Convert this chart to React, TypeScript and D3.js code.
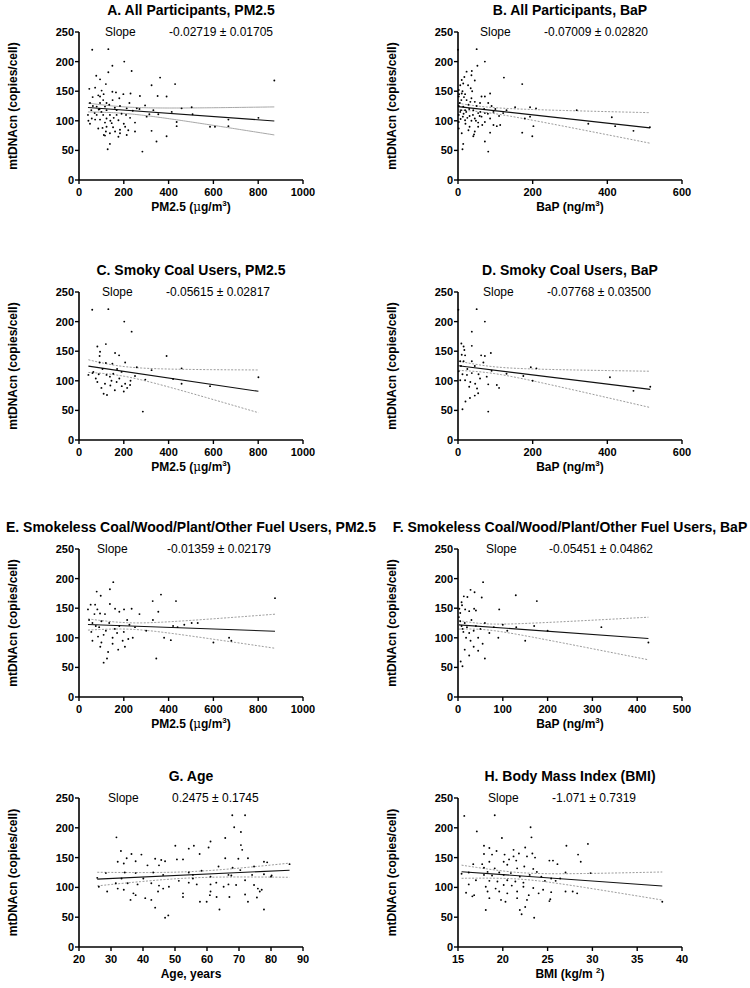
import React from 'react';
import * as d3 from 'd3';

type Pt = [number, number];

// ---------------- DATA ----------------
const pointsA: Pt[] = [[59,220],[131,221],[202,200],[149,193],[235,184],[131,182],[77,176],[94,170],[120,162],[362,173],[324,160],[429,162],[872,168],[46,154],[72,156],[101,151],[149,149],[165,148],[198,145],[230,146],[94,141],[61,140],[86,143],[108,135],[272,142],[351,142],[391,141],[225,130],[94,130],[123,130],[49,130],[116,124],[79,124],[183,125],[295,126],[55,118],[88,119],[123,118],[168,118],[213,121],[258,121],[332,118],[458,121],[503,123],[40,110],[79,110],[108,110],[138,110],[168,110],[210,110],[314,111],[354,111],[414,115],[507,111],[123,104],[94,102],[176,101],[228,105],[302,107],[667,102],[801,105],[42,100],[72,102],[146,96],[116,97],[250,97],[123,90],[152,89],[86,87],[183,85],[206,90],[667,91],[436,98],[436,91],[585,90],[607,90],[120,82],[161,82],[220,84],[138,79],[183,79],[213,76],[111,76],[116,75],[324,83],[391,74],[346,65],[138,61],[128,52],[283,48],[250,82],[176,73],[49,95],[62,125],[70,113],[100,115],[135,127],[155,105],[190,112],[200,95],[105,88],[92,120],[150,135],[180,138],[160,122],[240,117],[270,120],[110,145],[140,100],[57,104]];

const pointsB: Pt[] = [[0,220],[50,221],[72,200],[52,193],[37,184],[36,177],[23,183],[10,169],[17,174],[45,168],[6,160],[14,163],[123,173],[172,162],[34,155],[2,152],[10,146],[19,145],[86,146],[63,141],[72,141],[2,141],[9,135],[23,135],[36,138],[45,132],[59,130],[81,130],[90,125],[2,125],[14,124],[28,127],[153,123],[193,123],[209,121],[318,118],[6,115],[19,118],[41,118],[54,113],[72,113],[95,115],[121,113],[2,110],[13,107],[31,108],[45,104],[63,107],[86,104],[179,104],[193,107],[412,106],[2,98],[19,101],[36,100],[54,97],[72,98],[95,93],[104,91],[113,93],[202,91],[349,95],[421,91],[470,83],[514,89],[2,87],[31,90],[10,79],[45,82],[41,74],[43,77],[86,80],[172,80],[199,74],[72,65],[14,61],[12,52],[81,48],[54,90],[28,84],[5,130],[8,118],[15,112],[25,105],[30,120],[40,110],[50,125],[60,115],[70,120],[3,145],[12,150],[20,95],[33,132],[48,100],[65,93],[27,160],[16,140],[38,150],[22,115],[7,103],[58,108],[80,112],[100,120],[110,108],[130,118]];

const pointsC: Pt[] = [[59,220],[131,221],[202,200],[235,183],[82,158],[120,162],[94,149],[161,147],[179,143],[92,142],[391,142],[458,121],[206,131],[92,131],[120,130],[149,129],[258,123],[324,118],[801,106],[42,110],[64,115],[88,111],[123,110],[153,112],[180,104],[138,107],[168,98],[206,95],[228,93],[191,91],[296,102],[458,95],[585,91],[82,98],[116,95],[110,78],[125,76],[160,84],[200,82],[215,88],[285,48],[100,88],[140,92],[230,100],[170,120],[190,115],[250,108],[60,113],[75,104],[105,120],[145,100],[420,103]];

const pointsD: Pt[] = [[1,220],[50,221],[72,200],[37,183],[37,159],[9,163],[15,158],[17,152],[10,144],[19,143],[62,143],[72,142],[88,147],[195,123],[210,121],[6,133],[15,133],[37,133],[68,131],[90,117],[2,116],[12,111],[24,110],[37,113],[55,111],[59,104],[77,107],[407,106],[6,101],[19,101],[33,98],[46,95],[51,87],[81,94],[104,93],[515,90],[30,90],[32,71],[54,79],[81,48],[470,83],[130,112],[175,108],[200,100],[12,52],[20,65],[45,75],[110,88],[25,120],[45,125],[8,125]];

const pointsE: Pt[] = [[153,194],[138,182],[79,178],[97,171],[366,173],[433,162],[329,162],[875,167],[52,156],[72,156],[138,157],[161,149],[201,148],[235,149],[82,148],[69,140],[94,141],[116,140],[180,144],[354,144],[503,125],[45,130],[60,125],[75,120],[90,118],[100,128],[110,105],[120,112],[135,125],[150,100],[160,115],[170,108],[180,120],[195,95],[200,110],[215,130],[225,122],[240,100],[250,118],[270,140],[300,112],[330,130],[345,65],[380,100],[410,96],[420,120],[440,118],[470,122],[530,125],[600,92],[670,100],[680,95],[40,148],[55,110],[85,102],[95,85],[110,58],[125,65],[130,76],[150,90],[205,85],[220,98],[175,80],[60,95],[100,92]];

const pointsF: Pt[] = [[56,194],[28,181],[37,177],[21,169],[53,168],[13,170],[129,172],[176,162],[8,160],[9,155],[92,148],[16,148],[25,145],[36,149],[40,146],[5,142],[3,149],[2,135],[5,128],[8,120],[10,115],[12,110],[15,125],[18,100],[20,118],[25,108],[28,95],[30,130],[35,112],[40,120],[45,100],[50,115],[55,90],[60,125],[70,108],[80,118],[90,100],[100,122],[110,112],[130,118],[150,95],[170,120],[200,112],[320,118],[425,92],[6,60],[10,52],[15,80],[25,70],[35,85],[45,78],[60,65]];

const pointsG: Pt[] = [[67.9,221],[71.9,221],[68.5,201],[70.6,193],[31.7,184],[65.7,183],[61.1,177],[55.9,170],[50.1,170],[70.6,171],[60.5,167],[33.1,161],[71,163],[54.3,165],[57.7,156],[39.5,155],[36.4,156],[34.9,149],[43.8,148],[45.7,146],[65.7,149],[32.1,143],[37.7,144],[46.9,144],[50.6,147],[52.5,147],[69.8,148],[72.8,149],[77.8,143],[78.8,142],[34,140],[45,137],[41.4,137],[63.6,135],[68,133],[74.7,135],[25.7,116],[28.4,124],[34.3,125],[37.7,124],[43.2,125],[46.3,121],[54.3,125],[55.6,121],[58.3,128],[61.1,118],[66.7,121],[67.6,120],[70.4,129],[74.1,121],[77.8,122],[80.2,120],[85.8,139],[80,118],[26.2,101],[28.8,93],[33.3,115],[31.5,107],[35.2,107],[38.3,105],[40.1,115],[42.6,107],[45,103],[48.1,101],[51.2,111],[54.3,108],[55.6,115],[56.8,105],[61.1,105],[62.9,108],[65.2,101],[66.7,105],[69.1,104],[71.9,112],[74.7,104],[75.9,98],[32.1,98],[34,96],[37,90],[37.7,87],[36.1,79],[40.7,82],[42.6,79],[44.7,93],[46.3,98],[52.5,84],[52.5,90],[57.8,76],[59.9,76],[60.9,87],[63,84],[67,84],[71.9,88],[72.8,76],[75.6,83],[76.5,93],[77.1,96],[61.1,93],[43.8,66],[46.9,49],[47.9,53],[63.9,63],[77.8,63]];

const pointsH: Pt[] = [[15.7,220],[19.1,221],[17.1,194],[23.1,201],[23.2,184],[19.9,183],[29.5,173],[27.1,170],[17.9,170],[18.5,166],[21.2,163],[22.5,167],[19.3,161],[21.8,157],[20.2,155],[23.3,157],[28.4,155],[17.9,156],[18.8,155],[21.2,152],[22.7,152],[23.6,150],[20.7,147],[21.5,145],[25.2,145],[25.6,145],[26.1,139],[28.7,143],[16.7,139],[17.7,139],[18.5,143],[20.1,143],[22.4,135],[17.9,133],[19.1,132],[20.5,138],[21.6,132],[23.4,131],[23.8,126],[15.4,123],[16.2,125],[18.3,126],[19.6,125],[20.9,124],[27,125],[29.8,124],[17.9,121],[18.8,120],[20.1,121],[21.9,118],[23,121],[24.3,118],[25.4,115],[17,112],[18.5,111],[19.4,110],[20.5,112],[21.4,110],[22.3,108],[24.7,111],[25.9,111],[26.4,115],[16.2,105],[18.1,101],[19.2,98],[20.1,104],[21,103],[22.3,101],[23.4,99],[24.5,96],[18.3,93],[19.6,93],[20.5,90],[21.6,93],[22.9,87],[24,90],[25.4,92],[27,93],[27.8,93],[28.3,90],[15.9,91],[16.8,87],[16.6,85],[18.5,82],[19.8,79],[20.3,76],[21.6,82],[22.7,79],[25.2,77],[25.3,80],[18.1,62],[21.9,62],[22.5,67],[22.1,55],[23.5,49],[37.8,76]];

const titles = [
  'A. All Participants, PM2.5',
  'B. All Participants, BaP',
  'C. Smoky Coal Users, PM2.5',
  'D. Smoky Coal Users, BaP',
  'E. Smokeless Coal/Wood/Plant/Other Fuel Users, PM2.5',
  'F. Smokeless Coal/Wood/Plant/Other Fuel Users, BaP',
  'G. Age',
  'H. Body Mass Index (BMI)',
];
const slopeLabels = [
  '-0.02719 ± 0.01705', '-0.07009 ± 0.02820',
  '-0.05615 ± 0.02817', '-0.07768 ± 0.03500',
  '-0.01359 ± 0.02179', '-0.05451 ± 0.04862',
  '0.2475 ± 0.1745', '-1.071 ± 0.7319',
];
const slopes = [-0.02719, -0.07009, -0.05615, -0.07768, -0.01359, -0.05451, 0.2475, -1.071];
const slopeSE = [0.01705, 0.0282, 0.02817, 0.035, 0.02179, 0.04862, 0.1745, 0.7319];
const intercepts = [123.5, 124, 127.2, 125.5, 123, 122, 107.6, 142.8];
const xMeans = [190, 60, 170, 80, 220, 55, 55, 22];
const meanCI = [5.5, 4.6, 8, 5.6, 5.4, 5, 5.3, 5.5];
const xDomains: [number, number][] = [[0, 1000], [0, 600], [0, 1000], [0, 600], [0, 1000], [0, 500], [20, 90], [15, 40]];
const xTickSets = [
  [0, 200, 400, 600, 800, 1000], [0, 200, 400, 600],
  [0, 200, 400, 600, 800, 1000], [0, 200, 400, 600],
  [0, 200, 400, 600, 800, 1000], [0, 100, 200, 300, 400, 500],
  [20, 30, 40, 50, 60, 70, 80, 90], [15, 20, 25, 30, 35, 40],
];
const yTicks = [0, 50, 100, 150, 200, 250];
const xLabelKinds = ['pm', 'bap', 'pm', 'bap', 'pm', 'bap', 'age', 'bmi'];
const allPoints = [pointsA, pointsB, pointsC, pointsD, pointsE, pointsF, pointsG, pointsH];

// ---------------- LAYOUT ----------------
const T = 1.98;
const colX = [79, 458];
const plotW = 224;
const rowTop = [32, 292, 549, 798];
const rowBot = [180, 440, 697, 947];
const slopeDx = [26, 22, 23, 25, 18, 28, 29, 30];
const valueDx = [90, 86, 87, 89, 88, 91, 93, 94];
const FONT = 'Liberation Sans, Arial, Helvetica, sans-serif';

function XLabel({ kind, x, y }: { kind: string; x: number; y: number }) {
  const common = { x, y, textAnchor: 'middle' as const, fontWeight: 700, fontSize: 12, fill: '#000' };
  if (kind === 'pm') {
    return (
      <text {...common}>
        PM2.5 (<tspan fontFamily="DejaVu Serif, serif" fontWeight={400}>μ</tspan>g/m
        <tspan dy={-5} fontSize={8}>3</tspan>
        <tspan dy={5}>)</tspan>
      </text>
    );
  }
  if (kind === 'bap') {
    return (
      <text {...common}>
        BaP (ng/m<tspan dy={-5} fontSize={8}>3</tspan>
        <tspan dy={5}>)</tspan>
      </text>
    );
  }
  if (kind === 'bmi') {
    return (
      <text {...common}>
        BMI (kg/m <tspan dy={-5} fontSize={8}>2</tspan>
        <tspan dy={5}>)</tspan>
      </text>
    );
  }
  return <text {...common}>Age, years</text>;
}

function Panel({ i }: { i: number }) {
  const col = i % 2;
  const row = Math.floor(i / 2);
  const x0 = colX[col];
  const yTop = rowTop[row];
  const yBot = rowBot[row];
  const x = d3.scaleLinear().domain(xDomains[i]).range([x0, x0 + plotW]);
  const y = d3.scaleLinear().domain([0, 250]).range([yBot, yTop]);
  const pts = allPoints[i];
  const [xmin, xmax] = d3.extent(pts, (d) => d[0]) as [number, number];
  const fit = (v: number) => intercepts[i] + slopes[i] * v;
  const half = (v: number) => Math.sqrt(meanCI[i] ** 2 + (T * slopeSE[i] * (v - xMeans[i])) ** 2);
  const xs = d3.range(0, 81).map((k) => xmin + ((xmax - xmin) * k) / 80);
  const upper = d3.line<number>().x((v) => x(v)).y((v) => y(fit(v) + half(v)))(xs) || '';
  const lower = d3.line<number>().x((v) => x(v)).y((v) => y(fit(v) - half(v)))(xs) || '';
  const reg = d3.line<number>().x((v) => x(v)).y((v) => y(fit(v)))([xmin, xmax]) || '';
  const cx = x0 + plotW / 2;
  const cy = (yTop + yBot) / 2;
  const bandDash = i === 0 ? undefined : '2,1.5';
  const bandColor = i === 0 ? '#a8a8a8' : '#9a9a9a';

  return (
    <g>
      <text x={cx} y={yTop - 17} textAnchor="middle" fontWeight={700} fontSize={14} fill="#000">
        {titles[i]}
      </text>
      <text x={x0 + slopeDx[i]} y={yTop + 4} fontSize={12} fill="#000">Slope</text>
      <text x={x0 + valueDx[i]} y={yTop + 4} fontSize={12} fill="#000">{slopeLabels[i]}</text>

      <path d={upper} fill="none" stroke={bandColor} strokeWidth={1} strokeDasharray={bandDash} />
      <path d={lower} fill="none" stroke={bandColor} strokeWidth={1} strokeDasharray={bandDash} />
      <path d={reg} fill="none" stroke="#111" strokeWidth={1.1} />

      {pts.map((p, k) => (
        <circle key={k} cx={x(p[0])} cy={y(p[1])} r={0.95} fill="#000" />
      ))}

      {/* Y axis */}
      <line x1={x0} x2={x0} y1={y(250)} y2={y(0)} stroke="#000" strokeWidth={1.6} />
      {yTicks.map((t) => (
        <g key={t}>
          <line x1={x0 - 4} x2={x0} y1={y(t)} y2={y(t)} stroke="#000" strokeWidth={1.4} />
          <text x={x0 - 5} y={y(t) + 4} textAnchor="end" fontWeight={700} fontSize={11} fill="#000">{t}</text>
        </g>
      ))}
      {/* X axis */}
      <line x1={x0} x2={x0 + plotW} y1={yBot} y2={yBot} stroke="#000" strokeWidth={1.6} />
      {xTickSets[i].map((t) => (
        <g key={t}>
          <line x1={x(t)} x2={x(t)} y1={yBot} y2={yBot + 4} stroke="#000" strokeWidth={1.4} />
          <text x={x(t)} y={yBot + 16} textAnchor="middle" fontWeight={700} fontSize={11} fill="#000">{t}</text>
        </g>
      ))}
      <XLabel kind={xLabelKinds[i]} x={cx} y={yBot + 31} />
      <text
        transform={`translate(${x0 - 62},${cy}) rotate(-90)`}
        textAnchor="middle"
        fontWeight={700}
        fontSize={12}
        fill="#000"
      >
        mtDNAcn (copies/cell)
      </text>
    </g>
  );
}

export default function App() {
  return (
    <svg
      width={750}
      height={988}
      style={{ position: 'absolute', left: 0, top: 0, background: '#fff' }}
      fontFamily={FONT}
    >
      <rect width={750} height={988} fill="#fff" />
      {titles.map((_, i) => (
        <Panel key={i} i={i} />
      ))}
    </svg>
  );
}
